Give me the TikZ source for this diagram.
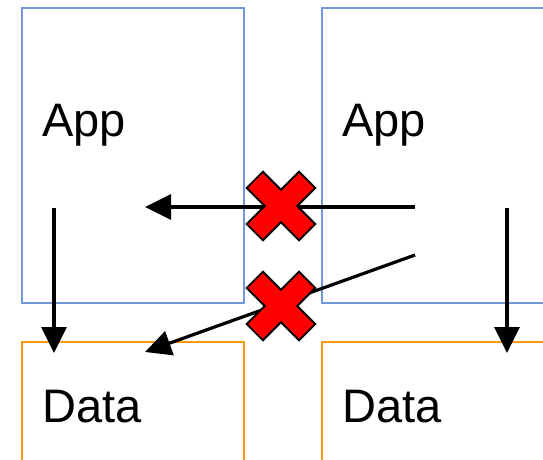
\documentclass[tikz,border=0pt]{standalone}
\usepackage{fontspec}
\setmainfont{Liberation Sans}
\usetikzlibrary{arrows.meta}
\definecolor{appblue}{RGB}{114,152,216}
\definecolor{dataorange}{RGB}{250,155,10}
\begin{document}
\begin{tikzpicture}[x=1pt,y=-1pt,
  appbox/.style={draw=appblue, line width=1.8pt, inner sep=0pt, outer sep=0pt},
  databox/.style={draw=dataorange, line width=1.8pt, inner sep=0pt, outer sep=0pt},
  lbl/.style={anchor=base west, inner sep=0pt, font=\fontsize{47}{50}\selectfont},
  flow/.style={line width=3.2pt, -{Triangle[length=26pt,width=25pt]}},
  nocross/.style={fill=red, draw=black, line width=1.8pt, line join=miter}]
\useasboundingbox (0,0) rectangle (543,460);
\clip (0,0) rectangle (543,460);

\node[appbox, minimum width=222pt, minimum height=295pt] (app1) at (133,155.5) {};
\node[appbox, minimum width=244pt, minimum height=295pt] (app2) at (444,155.5) {};
\node[databox, minimum width=222pt, minimum height=140pt] (data1) at (133,412) {};
\node[databox, minimum width=244pt, minimum height=140pt] (data2) at (444,412) {};

\node[lbl] (t1) at (42,136) {App};
\node[lbl] (t2) at (342,136) {App};
\node[lbl] (t3) at (42,422) {Data};
\node[lbl] (t4) at (342,422) {Data};

% arrow ends
\coordinate (s1) at (54,208);   \coordinate (e1) at (54,353);
\coordinate (s2) at (507,208);  \coordinate (e2) at (507,353);
\coordinate (s3) at (415,207);  \coordinate (e3) at (145,207);
\coordinate (s4) at (415,255);  \coordinate (e4) at (145,352);
\draw[flow] (s1) -- (e1);
\draw[flow] (s2) -- (e2);
\draw[flow] (s3) -- (e3);
\draw[flow] (s4) -- (e4);

% blocked
\coordinate (x1) at (281,206);
\coordinate (x2) at (281,306);
\foreach \c in {x1,x2}
  \draw[nocross, shift={(\c)}, rotate=45]
    (11.5,37) -- (11.5,11.5) -- (37,11.5) -- (37,-11.5) -- (11.5,-11.5) -- (11.5,-37)
    -- (-11.5,-37) -- (-11.5,-11.5) -- (-37,-11.5) -- (-37,11.5) -- (-11.5,11.5) -- (-11.5,37) -- cycle;
\end{tikzpicture}
\end{document}
